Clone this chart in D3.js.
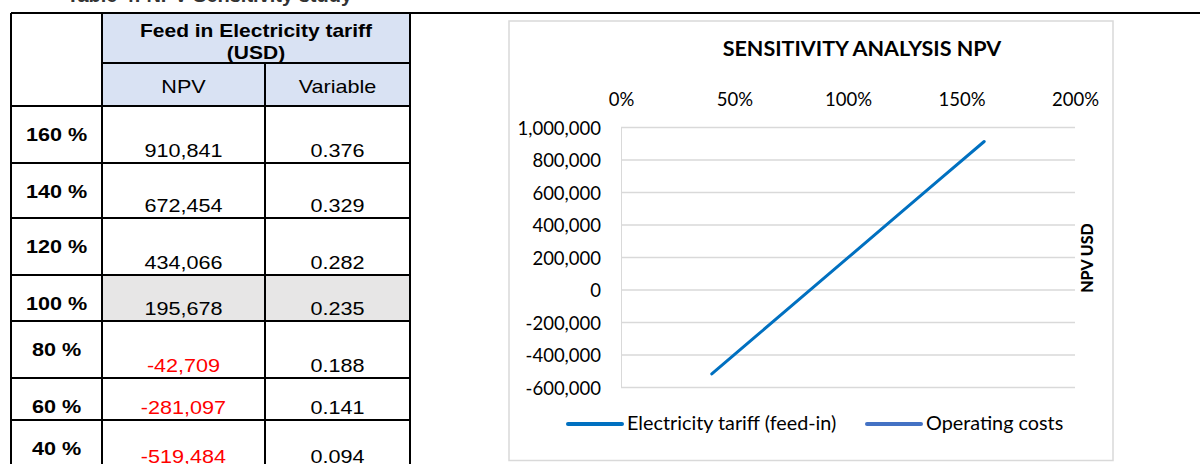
<!DOCTYPE html>
<html>
<head>
<meta charset="utf-8">
<script src="https://cdn.jsdelivr.net/npm/d3@7"></script>
<style>
  html, body { margin: 0; padding: 0; background: #ffffff; }
  svg { display: block; }
</style>
</head>
<body>
<svg id="c" width="1200" height="464"></svg>
<script>
// ---------- data ----------
const levels      = ["160 %", "140 %", "120 %", "100 %", "80 %", "60 %", "40 %"];
const levelPct    = [160, 140, 120, 100, 80, 60, 40];
const npvValues   = [910841, 672454, 434066, 195678, -42709, -281097, -519484];
const variableVal = ["0.376", "0.329", "0.282", "0.235", "0.188", "0.141", "0.094"];
const baseLevel   = 100;
const headerTitle = ["Feed in Electricity tariff", "(USD)"];
const headerCols  = ["NPV", "Variable"];
const pageTitle   = "Table 4: NPV Sensitivity study";
const chartTitle  = "SENSITIVITY ANALYSIS NPV";
const yAxisTitle  = "NPV  USD";
const xTickVals   = [0, 50, 100, 150, 200];
const yTickVals   = [1000000, 800000, 600000, 400000, 200000, 0, -200000, -400000, -600000];
const seriesNames = ["Electricity tariff (feed-in)", "Operating costs"];
const seriesColors = ["#0070C0", "#4472C4"];
const operatingCosts = []; // no points drawn in the reference

// ---------- layout ----------
const svg = d3.select("#c");
const loc = d3.formatLocale({decimal: ".", thousands: ",", grouping: [3], currency: ["$", ""], minus: "-"});
const fmt = loc.format(",");
const pctFmt = d => d + "%";

const colX = [11, 102, 265, 410];
const rowEdges = [106, 163, 218, 275, 321, 378, 420, 469];
const tableTop = 13, headMid = 63;
const sx = 1.2;
const tFont = "'Liberation Sans', Arial, sans-serif";
const cFont = "Lato, 'Noto Sans', sans-serif";

// page title (mostly cut off at top)
svg.append("text").attr("x", 352).attr("y", 1.5).attr("text-anchor", "end")
  .attr("font-family", tFont).attr("font-weight", "bold").attr("font-size", 20)
  .attr("fill", "#333").text(pageTitle);

// header backgrounds
svg.append("rect").attr("x", colX[1]).attr("y", tableTop).attr("width", colX[3] - colX[1])
  .attr("height", rowEdges[0] - tableTop).attr("fill", "#D9E2F3");
const baseIdx = levelPct.indexOf(baseLevel);
svg.append("rect").attr("x", colX[1]).attr("y", rowEdges[baseIdx]).attr("width", colX[3] - colX[1])
  .attr("height", rowEdges[baseIdx + 1] - rowEdges[baseIdx]).attr("fill", "#E7E6E6");

function tText(x, y, txt, opts) {
  svg.append("text")
    .attr("transform", `translate(${x},${y}) scale(${sx},1)`)
    .attr("text-anchor", "middle")
    .attr("font-family", tFont)
    .attr("font-size", opts.size || 18)
    .attr("font-weight", opts.bold ? "bold" : "normal")
    .attr("fill", opts.fill || "#000")
    .text(txt);
}

// header texts
const c23 = (colX[1] + colX[3]) / 2;
tText(c23, 37, headerTitle[0], {bold: true, size: 17.5});
tText(c23, 59, headerTitle[1], {bold: true, size: 17.5});
tText((colX[1] + colX[2]) / 2, 93, headerCols[0], {size: 18});
tText((colX[2] + colX[3]) / 2, 93, headerCols[1], {size: 18});

// body rows
levels.forEach((lab, i) => {
  const top = rowEdges[i], bot = rowEdges[i + 1];
  tText((colX[0] + colX[1]) / 2, top + 35, lab, {bold: true, size: 18});
  tText((colX[1] + colX[2]) / 2, bot - 6, fmt(npvValues[i]), {size: 18, fill: npvValues[i] < 0 ? "#FF0000" : "#000"});
  tText((colX[2] + colX[3]) / 2, bot - 6, variableVal[i], {size: 18});
});

// table lines
const lineG = svg.append("g").attr("stroke", "#000").attr("stroke-width", 2);
lineG.append("line").attr("x1", colX[0]).attr("x2", 1200).attr("y1", tableTop).attr("y2", tableTop);
lineG.append("line").attr("x1", colX[1]).attr("x2", colX[3]).attr("y1", headMid).attr("y2", headMid);
rowEdges.slice(0, -1).forEach(y => {
  lineG.append("line").attr("x1", colX[0]).attr("x2", colX[3]).attr("y1", y).attr("y2", y);
});
colX.forEach((x, i) => {
  lineG.append("line").attr("x1", x).attr("x2", x)
    .attr("y1", i === 2 ? headMid : tableTop).attr("y2", 464);
});

// ---------- chart ----------
svg.append("rect").attr("x", 509).attr("y", 21).attr("width", 604).attr("height", 439.5)
  .attr("fill", "#fff").attr("stroke", "#D9D9D9").attr("stroke-width", 1.5);

const x = d3.scaleLinear().domain([0, 200]).range([621, 1075]);
const y = d3.scaleLinear().domain([-600000, 1000000]).range([387, 127]);

svg.append("text").attr("x", 862).attr("y", 56).attr("text-anchor", "middle")
  .attr("font-family", cFont).attr("font-weight", "bold").attr("font-size", 21.5)
  .attr("fill", "#000").text(chartTitle);

// gridlines
const grid = svg.append("g").attr("transform", "translate(621,0)")
  .call(d3.axisLeft(y).tickValues(yTickVals).tickSize(-(1075 - 621)).tickFormat(""));
grid.select(".domain").attr("stroke", "#D9D9D9");
grid.selectAll(".tick line").attr("stroke", "#D9D9D9").attr("stroke-width", 1.3);

// y tick labels
const yAx = svg.append("g").attr("transform", "translate(601,0)")
  .call(d3.axisLeft(y).tickValues(yTickVals).tickSize(0).tickPadding(0).tickFormat(fmt));
yAx.select(".domain").remove();
yAx.selectAll("text").attr("font-family", cFont).attr("font-size", 18.5).attr("fill", "#000").attr("dy", "0.4em");

// top x axis labels
const xAx = svg.append("g").attr("transform", "translate(0,106)")
  .call(d3.axisTop(x).tickValues(xTickVals).tickSize(0).tickPadding(0).tickFormat(pctFmt));
xAx.select(".domain").remove();
xAx.selectAll("text").attr("font-family", cFont).attr("font-size", 18.5).attr("fill", "#000").attr("dy", 0);

// y axis title (right side)
svg.append("text").attr("transform", "translate(1093,258) rotate(-90)").attr("text-anchor", "middle")
  .attr("font-family", cFont).attr("font-weight", "900").attr("font-size", 16)
  .attr("fill", "#000").text(yAxisTitle);

// series line
const pts = levelPct.map((p, i) => ({p, v: npvValues[i]}));
const line = d3.line().x(d => x(d.p)).y(d => y(d.v));
svg.append("path").datum(pts).attr("d", line).attr("fill", "none")
  .attr("stroke", seriesColors[0]).attr("stroke-width", 3).attr("stroke-linecap", "round");
svg.append("path").datum(operatingCosts).attr("d", line).attr("fill", "none")
  .attr("stroke", seriesColors[1]).attr("stroke-width", 3);

// legend
const legX = [568, 867];
seriesNames.forEach((name, i) => {
  svg.append("line").attr("x1", legX[i]).attr("x2", legX[i] + 54).attr("y1", 424).attr("y2", 424)
    .attr("stroke", seriesColors[i]).attr("stroke-width", 4).attr("stroke-linecap", "round");
  svg.append("text").attr("x", legX[i] + 59).attr("y", 430)
    .attr("font-family", cFont).attr("font-size", 19.8).attr("fill", "#000").text(name);
});
</script>
</body>
</html>
